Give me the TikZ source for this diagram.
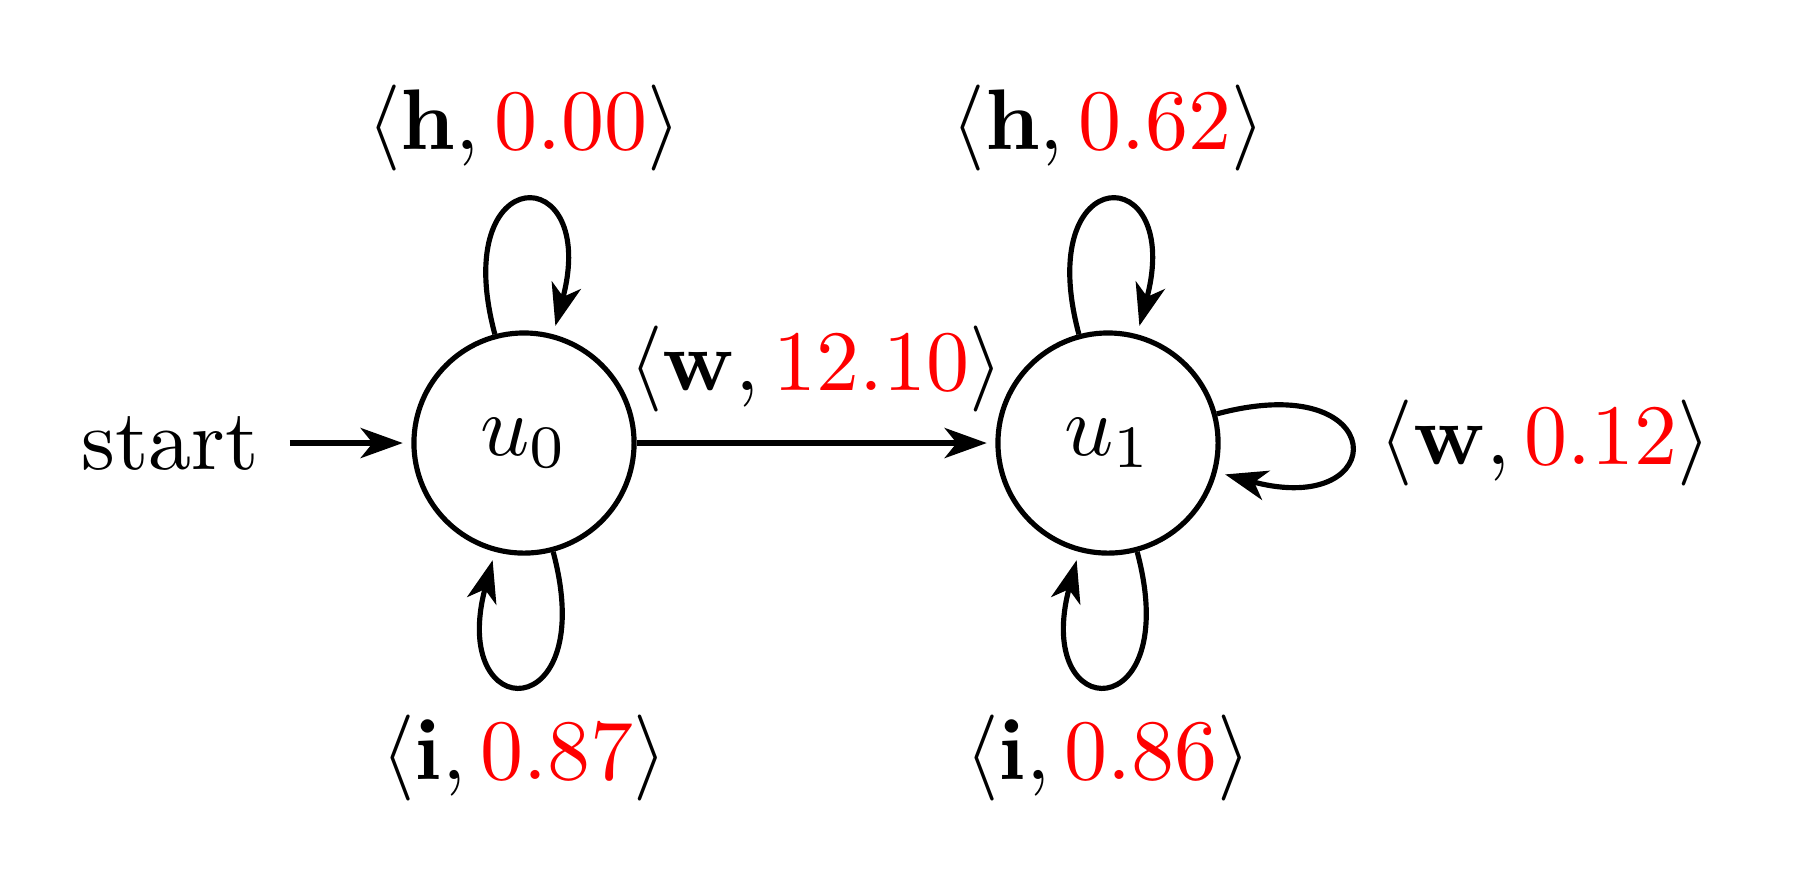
\documentclass[tikz,border=0pt]{standalone}
\usetikzlibrary{arrows.meta}
\newcommand{\wlab}[2]{$\langle\mathbf{#1},\textcolor{red}{#2}\rangle$}
\begin{document}
\begin{tikzpicture}[x=0.11628pt,y=0.11628pt,
  >={Stealth[length=4.9pt,width=3.5pt,inset=1.4pt]},
  semithick,
  stnode/.style={draw,circle,minimum size=25.6pt,inner sep=0pt},
  trans/.style={->,shorten >=1pt},
  myloop/.style={->,shorten >=1pt,looseness=8,min distance=5mm}]
\useasboundingbox (0,0) rectangle (1803,886);
\node[stnode] (u0) at (524,443) {$u_0$};
\node[stnode] (u1) at (1108,443) {$u_1$};
\node (start) at (170,443) {start};
\draw[trans] (start) -- (u0);
\draw[trans] (u0) -- node[above] {\wlab{w}{12.10}} (u1);
\draw[myloop] (u0) to[loop above] node[above] {\wlab{h}{0.00}} (u0);
\draw[myloop] (u0) to[loop below] node[below] {\wlab{i}{0.87}} (u0);
\draw[myloop] (u1) to[loop above] node[above] {\wlab{h}{0.62}} (u1);
\draw[myloop] (u1) to[loop below] node[below] {\wlab{i}{0.86}} (u1);
\draw[myloop] (u1) to[loop right] node[right] {\wlab{w}{0.12}} (u1);
\end{tikzpicture}
\end{document}
